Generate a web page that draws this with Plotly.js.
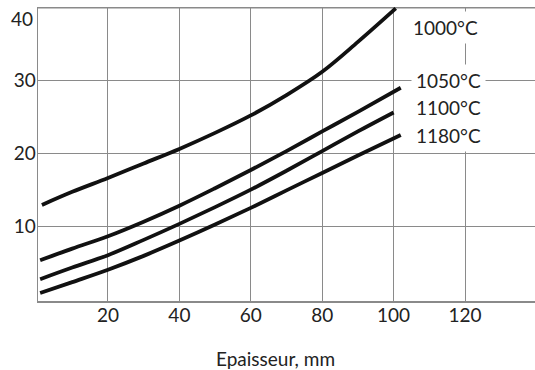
<!DOCTYPE html>
<html>
<head>
<meta charset="utf-8">
<script src="https://cdn.plot.ly/plotly-3.0.1.min.js"></script>
<style>html,body{margin:0;padding:0;background:#fff;}#chart{width:535px;height:370px;}</style>
</head>
<body>
<div id="chart"></div>
<script>
// Thickness (mm) sample points per curve
const x1000 = [1.5, 10, 20, 30, 40, 50, 60, 70, 80, 90, 100.6];
const y1000 = [12.9, 14.7, 16.6, 18.6, 20.6, 22.8, 25.2, 28.0, 31.2, 35.3, 39.9];

const x1050 = [1, 10, 20, 30, 40, 50, 60, 70, 80, 90, 102];
const y1050 = [5.3, 6.9, 8.6, 10.6, 12.8, 15.2, 17.7, 20.3, 23.0, 25.7, 29.0];

const x1100 = [1, 10, 20, 30, 40, 50, 60, 70, 80, 90, 100];
const y1100 = [2.7, 4.3, 6.0, 8.1, 10.3, 12.6, 15.0, 17.6, 20.3, 23.0, 25.6];

const x1180 = [1, 10, 20, 30, 40, 50, 60, 70, 80, 90, 102];
const y1180 = [0.8, 2.3, 4.0, 5.9, 8.0, 10.2, 12.5, 14.9, 17.3, 19.7, 22.5];

const seriesNames = ["1000°C", "1050°C", "1100°C", "1180°C"];
const labelX = [104, 104.8, 104.8, 104.8];
const labelY = [37.3, 30.05, 26.3, 22.5];

const xTicks = [20, 40, 60, 80, 100, 120];
const yTicks = [10, 20, 30];
const yTopTick = 40;
const xTitle = "Epaisseur, mm";

const FONT = 'Lato, sans-serif';
const TXT = '#222';
const xs = [x1000, x1050, x1100, x1180];
const ys = [y1000, y1050, y1100, y1180];

const traces = xs.map((xv, i) => ({
  x: xv, y: ys[i], type: 'scatter', mode: 'lines', name: seriesNames[i],
  line: {color: '#111', width: 3.8, shape: 'spline', smoothing: 1},
  hoverinfo: 'skip'
}));

const annotations = seriesNames.map((t, i) => ({
  x: labelX[i], y: labelY[i], xref: 'x', yref: 'y', text: t,
  showarrow: false, xanchor: 'left', yanchor: 'middle',
  bgcolor: '#fff', borderpad: 4,
  font: {family: FONT, size: 19, color: TXT}
}));
// top tick label (sits just below the top gridline)
annotations.push({
  x: 0, xref: 'paper', y: yTopTick, yref: 'y', text: String(yTopTick),
  showarrow: false, xanchor: 'right', yanchor: 'top', xshift: -3, yshift: 3,
  font: {family: FONT, size: 19, color: TXT}
});
// x axis title
annotations.push({
  x: 0.478, xref: 'paper', y: -0.194, yref: 'paper', text: xTitle,
  showarrow: false, xanchor: 'center', yanchor: 'middle',
  font: {family: FONT, size: 19, color: TXT}
});

const gridCol = '#8a8a8a';
const layout = {
  width: 535, height: 370,
  margin: {l: 38, r: 0, t: 7, b: 69},
  paper_bgcolor: '#fff', plot_bgcolor: '#fff',
  showlegend: false,
  font: {family: FONT, size: 19, color: TXT},
  xaxis: {
    range: [0.4, 139.6], tickvals: xTicks, ticktext: xTicks.map(String),
    showgrid: true, gridcolor: gridCol, gridwidth: 1,
    showline: true, linecolor: gridCol, linewidth: 1.5,
    zeroline: false, ticks: '', ticklabelstandoff: -3,
    tickfont: {family: FONT, size: 19, color: TXT}
  },
  yaxis: {
    range: [-0.3, 40.1], tickvals: yTicks, ticktext: yTicks.map(String),
    showgrid: true, gridcolor: gridCol, gridwidth: 1,
    showline: true, linecolor: gridCol, linewidth: 1.5,
    zeroline: false, ticks: '', ticklabelstandoff: -3,
    tickfont: {family: FONT, size: 19, color: TXT}
  },
  shapes: [{
    type: 'line', xref: 'paper', x0: 0, x1: 1, yref: 'y', y0: yTopTick, y1: yTopTick,
    line: {color: gridCol, width: 1.5}, layer: 'below'
  }],
  annotations: annotations
};

Plotly.newPlot('chart', traces, layout, {staticPlot: true, displayModeBar: false});
</script>
</body>
</html>
